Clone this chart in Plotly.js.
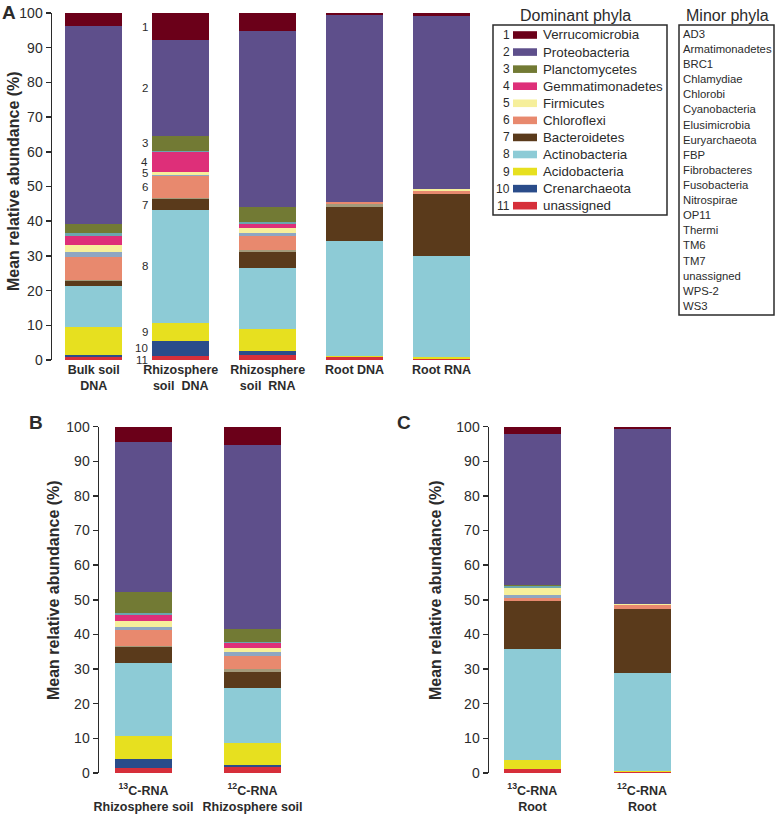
<!DOCTYPE html>
<html>
<head>
<meta charset="utf-8">
<script src="https://cdn.plot.ly/plotly-3.0.1.min.js"></script>
<style>html,body{margin:0;padding:0;background:#fff;}#chart{width:777px;height:814px;}</style>
</head>
<body>
<div id="chart"></div>
<script>
// ---------- DATA ----------
// Sample order: panel A (5 bars), panel B (2 bars), panel C (2 bars)
const samplesA = ['Bulk soil<br>DNA', 'Rhizosphere<br>soil  DNA', 'Rhizosphere<br>soil  RNA', 'Root DNA', 'Root RNA'];
const samplesB = ['<sup>13</sup>C-RNA<br>Rhizosphere soil', '<sup>12</sup>C-RNA<br>Rhizosphere soil'];
const samplesC = ['<sup>13</sup>C-RNA<br>Root', '<sup>12</sup>C-RNA<br>Root'];
const yTitle = 'Mean relative abundance (%)';

// Segment sizes (%) per sample, bottom-to-top stacking order
//                      BulkDNA RhDNA RhRNA RootDNA RootRNA 13CRh 12CRh 13CRoot 12CRoot
const unassigned      = [1.0,   1.15, 1.35, 1.0,  0.4,  1.35, 1.7,  1.15, 0.2];
const crenarchaeota   = [0.3,   4.45, 1.35, 0.0,  0.0,  2.65, 0.7,  0.0,  0.0];
const acidobacteria   = [8.3,   5.2,  6.1,  0.2,  0.6,  6.6,  6.25, 2.7,  0.3];
const actinobacteria  = [11.6,  32.3, 17.6, 33.2, 29.0, 21.3, 15.85,31.95,28.5];
const bacteroidetes   = [1.7,   3.3,  4.7,  9.8,  17.8, 4.4,  4.8,  13.9, 18.4];
const minorPhylaA     = [0.3,   0.2,  0.6,  0.8,  0.0,  0.4,  0.7,  0.0,  0.0];
const chloroflexi     = [6.6,   6.4,  3.9,  0.6,  0.9,  4.6,  3.8,  0.8,  1.0];
const minorPhylaB     = [1.2,   0.3,  0.9,  0.0,  0.0,  1.0,  1.0,  0.9,  0.0];
const firmicutes      = [2.2,   1.0,  1.4,  0.0,  0.6,  1.45, 1.3,  2.0,  0.3];
const gemmatimonadetes= [2.6,   5.6,  1.4,  0.0,  0.0,  1.85, 1.4,  0.0,  0.0];
const minorPhylaC     = [0.7,   0.4,  0.5,  0.0,  0.0,  0.6,  0.4,  0.5,  0.0];
const planctomycetes  = [2.7,   4.2,  4.2,  0.0,  0.0,  6.0,  3.6,  0.5,  0.0];
const proteobacteria  = [57.0,  27.7, 50.9, 53.9, 49.8, 43.5, 53.2, 43.5, 50.5];
const verrucomicrobia = [3.8,   7.8,  5.1,  0.5,  0.9,  4.3,  5.3,  2.1,  0.8];

const stackNames  = ['unassigned','Crenarchaeota','Acidobacteria','Actinobacteria','Bacteroidetes','minor phyla','Chloroflexi','minor phyla','Firmicutes','Gemmatimonadetes','minor phyla','Planctomycetes','Proteobacteria','Verrucomicrobia'];
const stackValues = [unassigned, crenarchaeota, acidobacteria, actinobacteria, bacteroidetes, minorPhylaA, chloroflexi, minorPhylaB, firmicutes, gemmatimonadetes, minorPhylaC, planctomycetes, proteobacteria, verrucomicrobia];
const stackColors = ['#d62f3a','#2a4c8a','#e7e01f','#8dcbd6','#5a3a1b','#a39a7a','#e8896e','#8ea6c2','#f6ef9b','#de2f79','#6aa6ae','#727a34','#5e4f8b','#6b0019'];

// Legend (dominant phyla, numbered 1..11 top-to-bottom)
const dominantNames  = ['Verrucomicrobia','Proteobacteria','Planctomycetes','Gemmatimonadetes','Firmicutes','Chloroflexi','Bacteroidetes','Actinobacteria','Acidobacteria','Crenarchaeota','unassigned'];
const dominantColors = ['#6b0019','#5e4f8b','#727a34','#de2f79','#f6ef9b','#e8896e','#5a3a1b','#8dcbd6','#e7e01f','#2a4c8a','#d62f3a'];
const minorNames = ['AD3','Armatimonadetes','BRC1','Chlamydiae','Chlorobi','Cyanobacteria','Elusimicrobia','Euryarchaeota','FBP','Fibrobacteres','Fusobacteria','Nitrospirae','OP11','Thermi','TM6','TM7','unassigned','WPS-2','WS3'];

// ---------- LAYOUT HELPERS ----------
const W = 777, H = 814;
const px = v => v / W;
const py = v => 1 - v / H;
const FONT = 'Liberation Sans, Arial, Helvetica, sans-serif';
const TXT = '#2b2b2b';

const panels = [
  {cats: samplesA, idx: [0,1,2,3,4], xa: 'x',  ya: 'y',  width: 0.655},
  {cats: samplesB, idx: [5,6],       xa: 'x2', ya: 'y2', width: 0.523},
  {cats: samplesC, idx: [7,8],       xa: 'x3', ya: 'y3', width: 0.518}
];

const traces = [];
panels.forEach(p => {
  stackValues.forEach((vals, k) => {
    traces.push({
      type: 'bar',
      name: stackNames[k],
      x: p.cats,
      y: p.idx.map(i => vals[i]),
      xaxis: p.xa, yaxis: p.ya,
      width: p.width,
      marker: {color: stackColors[k], line: {width: 0}},
      showlegend: false,
      hoverinfo: 'name+y'
    });
  });
});

function yAxis(domTop, domBot, anchor) {
  return {
    domain: [py(domBot), py(domTop)],
    anchor: anchor,
    range: [0, 100], dtick: 10,
    showgrid: false, zeroline: false,
    showline: true, linecolor: TXT, linewidth: 1.5,
    ticks: 'outside', ticklen: 5, tickwidth: 1.5, tickcolor: TXT,
    tickfont: {family: FONT, size: 14, color: TXT},
    fixedrange: true
  };
}
function xAxis(left, right, range, anchor, standoff) {
  return {
    domain: [px(left), px(right)],
    anchor: anchor,
    type: 'category',
    range: range,
    showgrid: false, zeroline: false, showline: false,
    ticks: '',
    ticklabelstandoff: standoff,
    tickfont: {family: FONT, size: 12.5, color: TXT, weight: 'bold'},
    fixedrange: true
  };
}

const shapes = [];
const annotations = [];

// Panel letters
[['A', 9, 12], ['B', 36, 422], ['C', 404, 422]].forEach(([t, x, y]) => {
  annotations.push({text: t, xref: 'paper', yref: 'paper', x: px(x), y: py(y), xanchor: 'center', yanchor: 'middle',
    showarrow: false, font: {family: FONT, size: 19, color: TXT, weight: 'bold'}});
});

// Y-axis titles (placed as rotated text next to each axis)
[[14, 181], [53, 590], [435, 590]].forEach(([x, y]) => {
  annotations.push({text: yTitle, xref: 'paper', yref: 'paper', x: px(x), y: py(y), xanchor: 'center', yanchor: 'middle',
    textangle: -90, showarrow: false, font: {family: FONT, size: 16, color: TXT, weight: 'bold'}});
});

// Numbers 1..11 beside the Rhizosphere soil DNA bar, at segment midpoints
const dominantStackIdx = [13, 12, 11, 9, 8, 6, 4, 3, 2, 1, 0];
dominantStackIdx.forEach((k, n) => {
  let below = 0;
  for (let j = 0; j < k; j++) below += stackValues[j][1];
  const mid = below + stackValues[k][1] / 2;
  annotations.push({text: String(n + 1), xref: 'paper', yref: 'y', x: px(150), y: mid, xanchor: 'right', yanchor: 'middle',
    yshift: n === 10 ? -1.5 : 0,
    showarrow: false, font: {family: FONT, size: 11.5, color: TXT}});
});

// Dominant phyla legend
annotations.push({text: 'Dominant phyla', xref: 'paper', yref: 'paper', x: px(575), y: py(15), xanchor: 'center', yanchor: 'middle',
  showarrow: false, font: {family: FONT, size: 16, color: TXT}});
shapes.push({type: 'rect', xref: 'paper', yref: 'paper', x0: px(493), x1: px(667), y0: py(25), y1: py(215), line: {color: TXT, width: 1.5}});
dominantNames.forEach((nm, i) => {
  const yc = 35 + 17.07 * i;
  annotations.push({text: String(i + 1), xref: 'paper', yref: 'paper', x: px(512), y: py(yc), xanchor: 'right', yanchor: 'middle',
    showarrow: false, font: {family: FONT, size: 12, color: TXT}});
  shapes.push({type: 'rect', xref: 'paper', yref: 'paper', x0: px(513), x1: px(537), y0: py(yc + 3.8), y1: py(yc - 3.8), line: {width: 0}, fillcolor: dominantColors[i]});
  annotations.push({text: nm, xref: 'paper', yref: 'paper', x: px(541), y: py(yc), xanchor: 'left', yanchor: 'middle',
    showarrow: false, font: {family: FONT, size: 13.3, color: TXT}});
});

// Minor phyla list
annotations.push({text: 'Minor phyla', xref: 'paper', yref: 'paper', x: px(727), y: py(15), xanchor: 'center', yanchor: 'middle',
  showarrow: false, font: {family: FONT, size: 16, color: TXT}});
shapes.push({type: 'rect', xref: 'paper', yref: 'paper', x0: px(679), x1: px(774), y0: py(25), y1: py(315), line: {color: TXT, width: 1.5}});
minorNames.forEach((nm, i) => {
  annotations.push({text: nm, xref: 'paper', yref: 'paper', x: px(681), y: py(34 + 15.1 * i), xanchor: 'left', yanchor: 'middle',
    showarrow: false, font: {family: FONT, size: 11.3, color: TXT}});
});

const layout = {
  width: W, height: H,
  margin: {l: 0, r: 0, t: 0, b: 0},
  paper_bgcolor: '#fff', plot_bgcolor: 'rgba(0,0,0,0)',
  barmode: 'stack',
  showlegend: false,
  font: {family: FONT, color: TXT},
  xaxis:  xAxis(52, 485, [-0.48, 4.5], 'y', 0),
  yaxis:  yAxis(13, 360, 'x'),
  xaxis2: xAxis(99, 307, [-0.408, 1.5], 'y2', 8),
  yaxis2: yAxis(426.7, 773, 'x2'),
  xaxis3: xAxis(489, 697, [-0.395, 1.5], 'y3', 8),
  yaxis3: yAxis(426.7, 773, 'x3'),
  shapes: shapes,
  annotations: annotations
};

Plotly.newPlot('chart', traces, layout, {displayModeBar: false, staticPlot: true});
</script>
</body>
</html>
